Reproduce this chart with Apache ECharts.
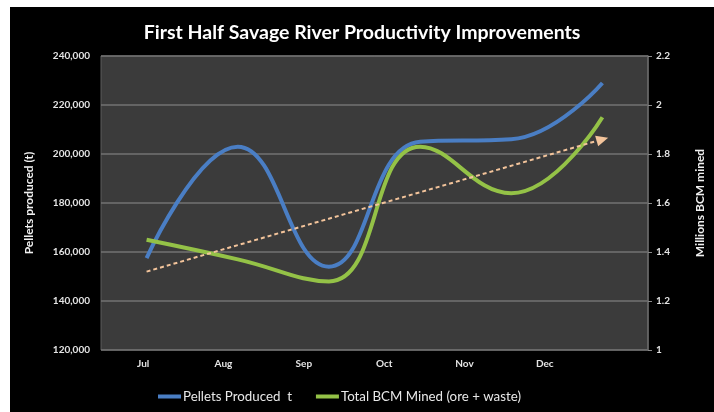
<!DOCTYPE html>
<html>
<head>
<meta charset="utf-8">
<script src="https://cdn.jsdelivr.net/npm/echarts@6/dist/echarts.min.js"></script>
<style>
    html, body { margin: 0; padding: 0; background: #fff; }
    #chart { position: absolute; left: 10px; top: 7px; width: 704px; height: 405px; background: #000; }
</style>
</head>
<body>
<div id="chart"></div>
<script>
var months = ['Jul', 'Aug', 'Sep', 'Oct', 'Nov', 'Dec'];
var pellets = [157500, 203000, 154000, 205000, 206000, 229000];
var bcmMined = [1.45, 1.37, 1.28, 1.83, 1.64, 1.95];
var trendStart = 1.32;
var trendEnd = 1.86;

var fontName = 'Lato, "Open Sans", sans-serif';
var labelColor = '#e4e4e4';

var myChart = echarts.init(document.getElementById('chart'));
var option = {
    backgroundColor: '#000',
    textStyle: { fontFamily: fontName },
    title: {
        text: 'First Half Savage River Productivity Improvements',
        left: 'center',
        top: 11,
        textStyle: { color: '#fff', fontSize: 19.5, fontWeight: 'bold', fontFamily: fontName }
    },
    legend: {
        left: 143,
        top: 378,
        icon: 'rect',
        itemWidth: 23,
        itemHeight: 4,
        itemGap: 24,
        textStyle: { color: '#e8e8e8', fontSize: 13.3, fontFamily: fontName, padding: [0, 0, 0, -3] },
        data: ['Pellets Produced  t', 'Total BCM Mined (ore + waste)']
    },
    grid: [
        {
            left: 91, top: 49, right: 56, bottom: 62,
            show: true,
            backgroundColor: '#3b3b3b',
            borderColor: '#5c5c5c',
            borderWidth: 1
        },
        // labels in the picture sit on a narrower spacing than the points
        { left: 93, top: 49, right: 129, bottom: 62 }
    ],
    xAxis: [
        {
            type: 'category',
            gridIndex: 0,
            data: months,
            axisLine: { show: false },
            axisTick: { show: false },
            axisLabel: { show: false }
        },
        {
            type: 'category',
            gridIndex: 1,
            data: months,
            axisLine: { show: false },
            axisTick: { show: false },
            axisLabel: { color: labelColor, fontSize: 10, fontWeight: 'bold', margin: 9 }
        }
    ],
    yAxis: [
        {
            type: 'value',
            gridIndex: 0,
            min: 120000,
            max: 240000,
            interval: 20000,
            name: 'Pellets produced (t)',
            nameLocation: 'middle',
            nameRotate: 90,
            nameGap: 66,
            nameTextStyle: { color: '#f0f0f0', fontSize: 12, fontWeight: 'bold' },
            axisLine: { show: false },
            axisTick: { show: false },
            axisLabel: {
                color: labelColor, fontSize: 10, fontWeight: 'bold', margin: 11,
                formatter: function (v) { return v.toLocaleString('en-US'); }
            },
            splitLine: { lineStyle: { color: '#737373', width: 1.5 } }
        },
        {
            type: 'value',
            gridIndex: 0,
            position: 'right',
            min: 1,
            max: 2.2,
            interval: 0.2,
            name: 'Millions BCM mined',
            nameLocation: 'middle',
            nameRotate: 90,
            nameGap: 46,
            nameTextStyle: { color: '#f0f0f0', fontSize: 12, fontWeight: 'bold' },
            axisLine: { show: true, lineStyle: { color: '#6a6a6a', width: 1.5 } },
            axisTick: { show: true, length: 4, lineStyle: { color: '#8a8a8a' } },
            axisLabel: {
                color: labelColor, fontSize: 10, fontWeight: 'bold', margin: 8,
                formatter: function (v) { return String(Math.round(v * 10) / 10); }
            },
            splitLine: { show: false }
        },
        {
            type: 'value',
            gridIndex: 1,
            show: false
        }
    ],
    series: [
        {
            name: 'Pellets Produced  t',
            type: 'line',
            xAxisIndex: 0,
            yAxisIndex: 0,
            smooth: 0.45,
            symbol: 'none',
            data: pellets,
            itemStyle: { color: '#4a7ec4' },
            lineStyle: { color: '#4a7ec4', width: 4 }
        },
        {
            name: 'Total BCM Mined (ore + waste)',
            type: 'line',
            xAxisIndex: 0,
            yAxisIndex: 1,
            smooth: 0.45,
            symbol: 'none',
            data: bcmMined,
            itemStyle: { color: '#94c247' },
            lineStyle: { color: '#94c247', width: 4 },
            markLine: {
                silent: true,
                symbol: ['none', 'triangle'],
                symbolSize: [11, 12],
                label: { show: false },
                lineStyle: { color: '#f3c49b', type: [4, 3], width: 2 },
                data: [[
                    { coord: [0, trendStart] },
                    { coord: [5, trendEnd], itemStyle: { color: '#f7b98a' } }
                ]]
            }
        }
    ]
};
myChart.setOption(option);
</script>
</body>
</html>
